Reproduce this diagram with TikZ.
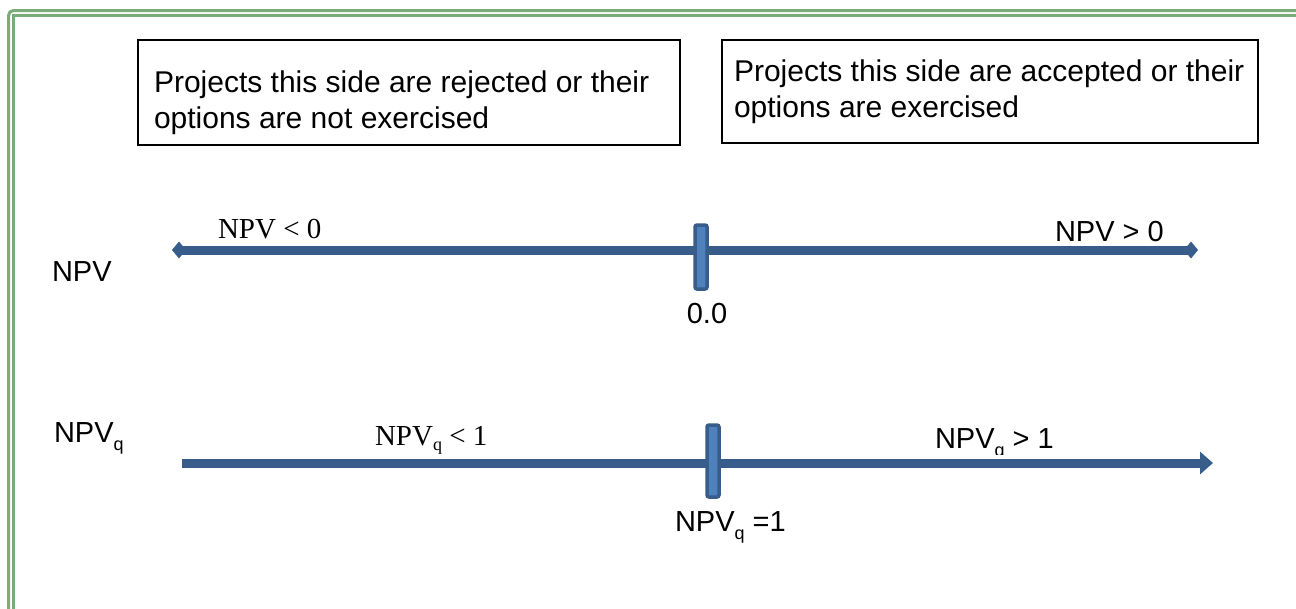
\documentclass[tikz,border=0pt]{standalone}
\usepackage{fontspec}
\setmainfont{Liberation Sans}
\newfontfamily\timesfont{Liberation Serif}
\usetikzlibrary{arrows.meta}
\definecolor{frameGreen}{RGB}{122,172,122}
\definecolor{axisBlue}{RGB}{56,93,138}
\definecolor{tickBlue}{RGB}{79,129,189}
% lowered subscript q for the sans and serif labels
\newcommand\subqsans{\raisebox{-8pt}{\fontsize{18}{18}\selectfont q}}
\newcommand\subqserif{\raisebox{-5pt}{\fontsize{18}{18}\selectfont q}}

\begin{document}
\begin{tikzpicture}[x=1pt,y=-1pt,
  every node/.style={inner sep=0pt, outer sep=0pt},
  sans/.style={font=\fontsize{29}{35}\selectfont},
  boxtext/.style={font=\fontsize{30}{35.5}\selectfont, align=left, anchor=base west},
  serif/.style={font=\timesfont\fontsize{29}{35}\selectfont},
  notebox/.style={draw=black, line width=1.3pt},
  axisline/.style={draw=axisBlue, line width=9pt},
  tickmark/.style={draw=axisBlue, fill=tickBlue, line width=3.5pt, rounded corners=2pt, minimum width=12pt, minimum height=64pt},
  frameline/.style={draw=frameGreen, line width=3pt},
]
\clip (0,0) rectangle (1296,608);

% double page frame
\draw[frameline, rounded corners=5pt] (8.5,10.5) rectangle (1320,630);
\draw[frameline] (13.5,15.5) rectangle (1315,625);

% explanatory boxes (text anchored at the baseline of its last line)
\node[notebox, minimum width=542pt, minimum height=105pt, anchor=north west] (rejectBox) at (138,40) {};
\node[notebox, minimum width=536pt, minimum height=103pt, anchor=north west] (acceptBox) at (722,40) {};
\node[boxtext] (rejectText) at (154,128)
  {Projects this side are rejected or their\\options are not exercised};
\node[boxtext] (acceptText) at (734,117)
  {Projects this side are accepted or their\\options are exercised};

% NPV axis
\coordinate (npvLeft) at (172,250);
\coordinate (npvRight) at (1198,250);
\draw[axisline, {Diamond[length=14pt,width=17pt]}-{Diamond[length=14pt,width=17pt]}] (npvLeft) -- (npvRight);
\node[tickmark] (zeroTick) at (701,257) {};
\node[sans] (zeroLabel) at (707,314) {0.0};
\node[sans, anchor=base west] (npvName) at (52,281) {NPV};
\node[serif, anchor=base west] (npvNeg) at (218,238) {NPV < 0};
\node[sans, anchor=base west] (npvPos) at (1055,241) {NPV > 0};

% NPV_q axis
\coordinate (qLeft) at (182,463);
\coordinate (qRight) at (1213,463);
\draw[axisline, -{Triangle[length=13pt,width=22pt]}] (qLeft) -- (qRight);
\node[tickmark, minimum height=72pt] (oneTick) at (713,461) {};
\node[sans, anchor=base west] (qName) at (54,442) {NPV\subqsans};
\node[serif, anchor=base west] (qNeg) at (375,445) {NPV\subqserif{} < 1};
\begin{scope}
  \clip (900,400) rectangle (1100,454);
  \node[sans, anchor=base west] (qPos) at (935,448) {NPV\subqsans{} > 1};
\end{scope}
\node[sans, anchor=base west] (qOne) at (675,531) {NPV\subqsans{} =1};
\end{tikzpicture}
\end{document}
